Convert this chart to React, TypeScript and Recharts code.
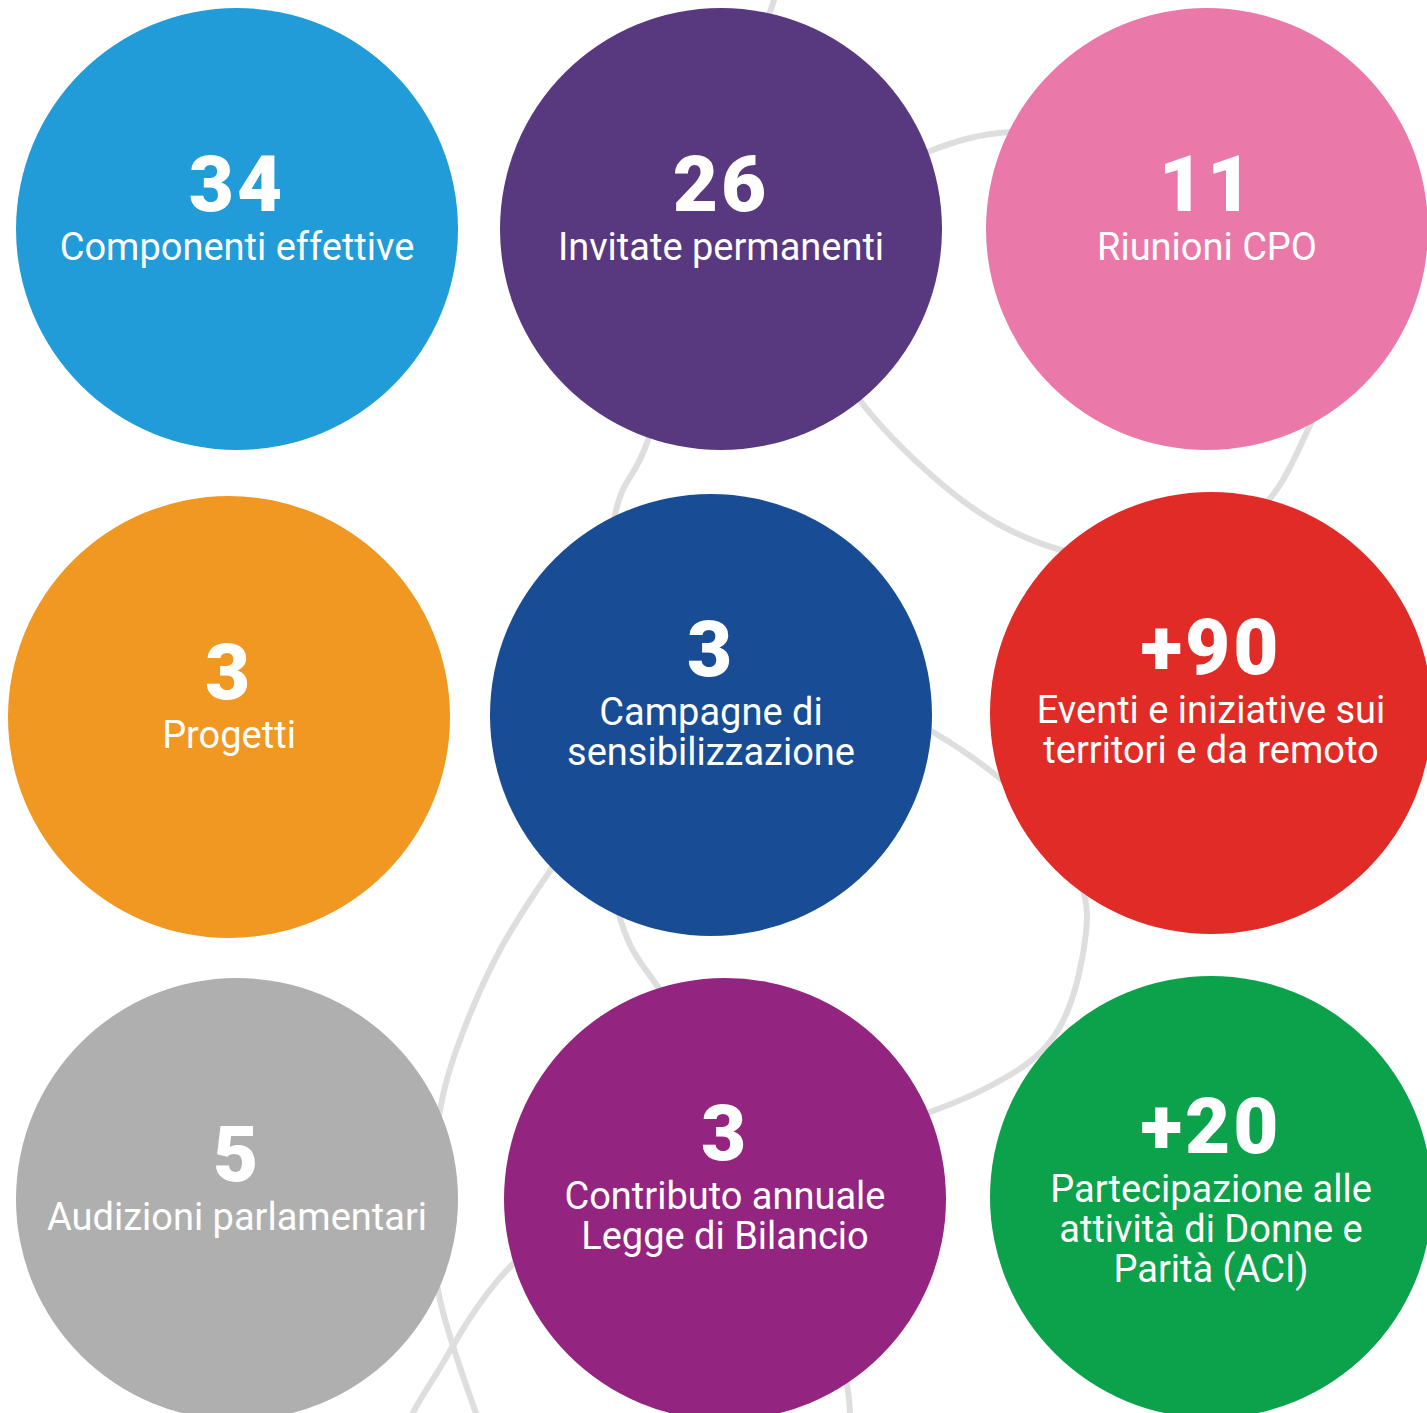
import React from 'react';
import { ComposedChart, Line, Scatter, XAxis, YAxis } from 'recharts';

// Infographic values
const figures = ['34', '26', '11', '3', '3', '+90', '5', '3', '+20'];
const captions = [
  'Componenti effettive',
  'Invitate permanenti',
  'Riunioni CPO',
  'Progetti',
  'Campagne di\nsensibilizzazione',
  'Eventi e iniziative sui\nterritori e da remoto',
  'Audizioni parlamentari',
  'Contributo annuale\nLegge di Bilancio',
  'Partecipazione alle\nattività di Donne e\nParità (ACI)',
];
const bubbleColors = ['#229cd8', '#58387f', '#ea79aa', '#f09822', '#184d95', '#e02b27', '#afafaf', '#93247f', '#0ca14b'];
// bubble centres in the infographic's coordinate space
const bubbleX = [237, 721, 1207, 229, 711, 1211, 237, 725, 1211];
const bubbleY = [229, 229, 229, 717, 715, 713, 1199, 1199, 1197];

// decorative grey background curves
const curveA = [
  { x: 778, y: -20 }, { x: 770, y: 12 }, { x: 700, y: 230 }, { x: 648, y: 440 }, { x: 615, y: 515 },
  { x: 603, y: 712 }, { x: 618, y: 910 }, { x: 660, y: 990 }, { x: 700, y: 1080 },
];
const curveB = [{ x: 880, y: 172 }, { x: 930, y: 151 }, { x: 970, y: 138 }, { x: 1010, y: 132 }, { x: 1060, y: 131 }];
const curveC = [{ x: 800, y: 300 }, { x: 858, y: 398 }, { x: 937, y: 480 }, { x: 1000, y: 525 }, { x: 1061, y: 550 }, { x: 1120, y: 562 }];
const curveD = [{ x: 1330, y: 380 }, { x: 1310, y: 425 }, { x: 1283, y: 480 }, { x: 1258, y: 512 }, { x: 1230, y: 540 }];
const curveE = [
  { x: 880, y: 705 }, { x: 933, y: 732 }, { x: 997, y: 776 }, { x: 1042, y: 822 }, { x: 1078, y: 879 },
  { x: 1086, y: 933 }, { x: 1064, y: 1019 }, { x: 1010, y: 1075 }, { x: 930, y: 1112 }, { x: 880, y: 1124 },
];
const curveF = [
  { x: 600, y: 800 }, { x: 552, y: 868 }, { x: 500, y: 950 }, { x: 461, y: 1037 }, { x: 440, y: 1110 },
  { x: 432, y: 1200 }, { x: 440, y: 1300 }, { x: 476, y: 1413 }, { x: 488, y: 1450 },
];
const curveG = [{ x: 560, y: 1230 }, { x: 514, y: 1263 }, { x: 470, y: 1318 }, { x: 440, y: 1368 }, { x: 413, y: 1413 }, { x: 402, y: 1450 }];
const curveH = [{ x: 830, y: 1330 }, { x: 846, y: 1381 }, { x: 850, y: 1413 }, { x: 851, y: 1450 }];
const curves = [curveA, curveB, curveC, curveD, curveE, curveF, curveG, curveH];

const bubbles = figures.map((f, i) => ({
  x: bubbleX[i],
  y: bubbleY[i],
  figure: f,
  caption: captions[i],
  color: bubbleColors[i],
}));

const W = 1427;
const H = 1413;
const R = 221;
const numberOffset = [18, 39, 44];

const Bubble = (props: any) => {
  const { cx, cy, payload } = props;
  const lines: string[] = payload.caption.split('\n');
  const nb = cy - numberOffset[lines.length - 1];
  return (
    <g>
      <circle cx={cx} cy={cy} r={R} fill={payload.color} />
      <text
        x={cx}
        y={nb}
        textAnchor="middle"
        fill="#ffffff"
        fontFamily="Roboto, 'Noto Sans', sans-serif"
        fontWeight={900}
        fontSize={78}
        letterSpacing={3}
      >
        {payload.figure}
      </text>
      {lines.map((ln, k) => (
        <text
          key={k}
          x={cx}
          y={nb + 49 + k * 40}
          textAnchor="middle"
          fill="#ffffff"
          fontFamily="Roboto, 'Noto Sans', sans-serif"
          fontWeight={400}
          fontSize={38}
        >
          {ln}
        </text>
      ))}
    </g>
  );
};

export default function App() {
  return (
    <div style={{ position: 'absolute', left: 0, top: 0, width: W, height: H, overflow: 'hidden', background: '#ffffff' }}>
      <ComposedChart width={W} height={H} margin={{ top: 0, right: 0, bottom: 0, left: 0 }}>
        <XAxis type="number" dataKey="x" domain={[0, W]} allowDataOverflow hide />
        <YAxis type="number" dataKey="y" domain={[0, H]} allowDataOverflow reversed hide />
        {curves.map((c, i) => (
          <Line
            key={i}
            data={c}
            dataKey="y"
            type="natural"
            stroke="#dedede"
            strokeWidth={6}
            dot={false}
            activeDot={false}
            isAnimationActive={false}
          />
        ))}
        <Scatter data={bubbles} dataKey="y" shape={Bubble} isAnimationActive={false} />
      </ComposedChart>
    </div>
  );
}
